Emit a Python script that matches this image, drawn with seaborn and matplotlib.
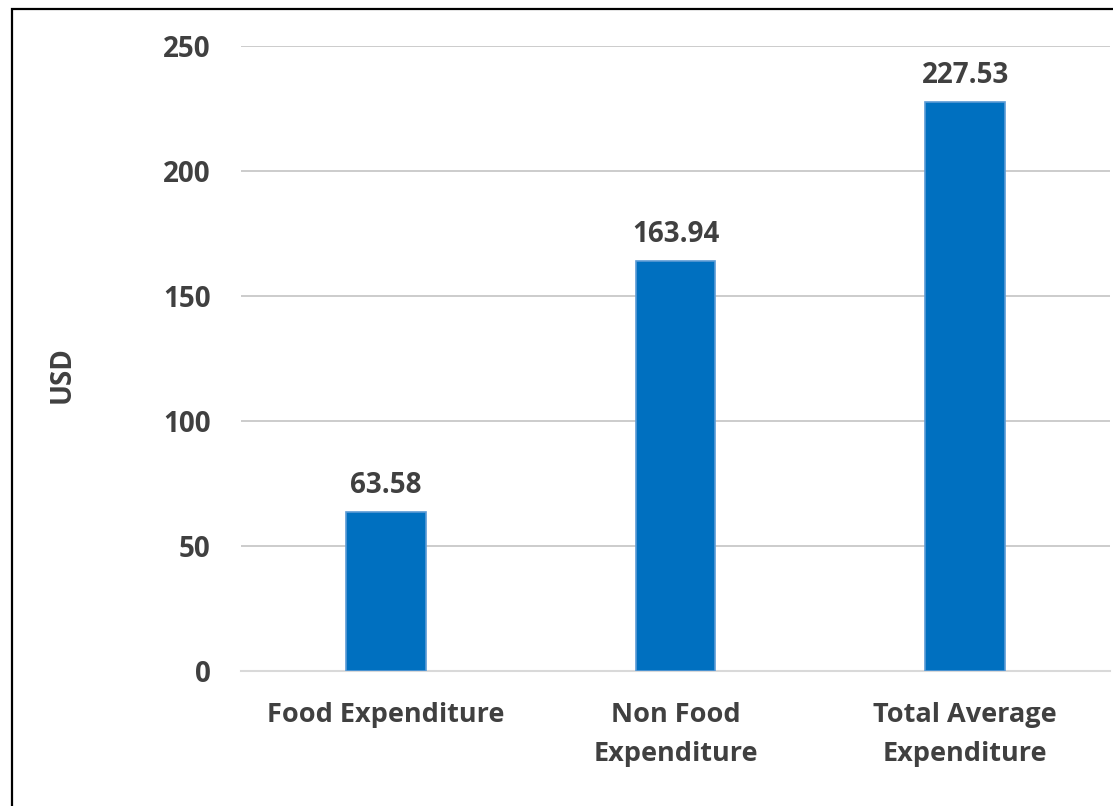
import matplotlib
matplotlib.use("Agg")
import matplotlib.pyplot as plt
import seaborn as sns
import pandas as pd
from matplotlib.patches import Rectangle

# Average monthly expenditure per household (USD)
categories = ["Food Expenditure", "Non Food\nExpenditure", "Total Average\nExpenditure"]
values = [63.58, 163.94, 227.53]
y_ticks = [0, 50, 100, 150, 200, 250]

sns.set_theme(style="white")
plt.rcParams["font.family"] = ["Open Sans", "DejaVu Sans"]
plt.rcParams["font.weight"] = "bold"

TEXT = "#404040"
W, H = 1113, 806

fig = plt.figure(figsize=(W / 100, H / 100), dpi=100)
fig.patch.set_facecolor("white")
ax = fig.add_axes([241 / W, 135 / H, 869 / W, 625 / H])

df = pd.DataFrame({"category": categories, "usd": values})
sns.barplot(data=df, x="category", y="usd", color="#0070C0", saturation=1,
            width=0.276, edgecolor="#5B9BD5", linewidth=1.2, ax=ax, zorder=3)

ax.set_ylim(0, 250)
ax.set_yticks(y_ticks)
ax.set_yticklabels([str(t) for t in y_ticks])
ax.yaxis.grid(True, color="#BFBFBF", linewidth=1.1, zorder=0)
ax.xaxis.grid(False)
ax.set_axisbelow(True)

for side in ["top", "right", "left"]:
    ax.spines[side].set_visible(False)
ax.spines["bottom"].set_color("#D9D9D9")
ax.spines["bottom"].set_linewidth(1.5)

ax.tick_params(axis="y", length=0, pad=22, labelsize=20, labelcolor=TEXT)
ax.tick_params(axis="x", length=0, pad=22, labelsize=19.5, labelcolor=TEXT)
for lab in ax.get_xticklabels() + ax.get_yticklabels():
    lab.set_fontweight("bold")
for lab in ax.get_xticklabels():
    lab.set_linespacing(1.65)

ax.set_xlabel("")
ax.set_ylabel("USD", fontsize=20, fontweight="bold", color=TEXT)
ax.yaxis.set_label_coords(-0.1887, 0.4744)

for i, v in enumerate(values):
    ax.annotate(f"{v:.2f}", xy=(i, v), xytext=(0, 14), textcoords="offset points",
                ha="center", va="baseline", fontsize=20, fontweight="bold", color=TEXT)

# Outer frame of the chart area
fig.patches.append(Rectangle((12 / W, -0.1), 1.2, (H - 9) / H + 0.1,
                             transform=fig.transFigure, fill=False,
                             edgecolor="black", linewidth=1.6))

fig.savefig("out.png", dpi=100)
